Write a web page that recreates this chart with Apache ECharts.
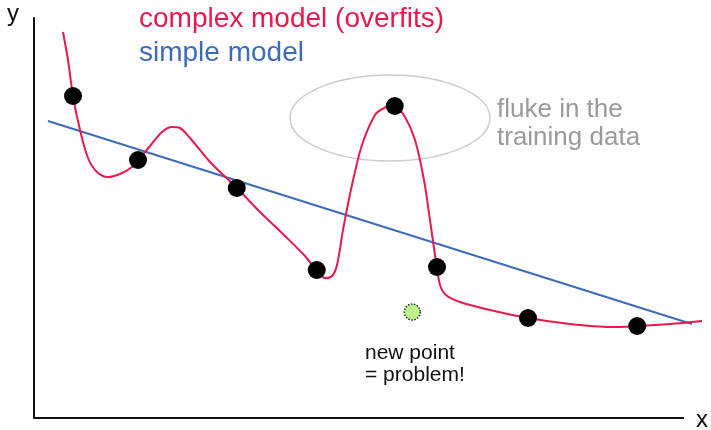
<!DOCTYPE html>
<html>
<head>
<meta charset="utf-8">
<script src="https://cdn.jsdelivr.net/npm/echarts@6/dist/echarts.min.js"></script>
<style>
  html, body { margin: 0; padding: 0; background: #fff; }
  #chart { width: 711px; height: 430px; }
</style>
</head>
<body>
<div id="chart"></div>
<script>
// training points (x, y) in axis units, x axis drawn 0..100
var trainX = [6.0, 16.0, 31.2, 43.5, 55.5, 62.0, 76.0, 92.8];
var trainY = [80.5, 64.5, 57.5, 37.0, 78.0, 37.75, 25.0, 23.0];

// the new point
var newPoint = [58.2, 26.5];

// simple model: straight line, two ends
var simpleX = [2.15, 101.2];
var simpleY = [74.25, 23.5];

// complex model: wiggly curve
var complexX = [4.46, 5.23, 6.0, 7.08, 8.31, 9.69, 11.38, 13.23, 15.08, 16.31,
    17.85, 19.69, 21.23, 22.46, 24.0, 27.08, 31.23, 34.77, 38.62, 41.69,
    43.69, 44.77, 45.85, 46.62, 47.54, 48.92, 50.46, 52.46, 53.85, 55.38,
    57.08, 58.62, 60.0, 60.92, 61.69, 62.0, 62.46, 63.38, 65.54, 70.15,
    76.0, 82.46, 88.62, 92.77, 97.85, 102.77];
var complexY = [96.5, 89.5, 80.5, 72.0, 65.0, 61.5, 60.25, 61.0, 62.75, 65.0,
    68.0, 71.5, 72.75, 72.5, 70.0, 64.0, 57.5, 51.5, 45.5, 40.5,
    36.5, 35.0, 35.5, 38.25, 47.0, 58.25, 68.25, 75.75, 77.5, 78.25,
    75.25, 69.5, 59.5, 49.5, 40.75, 37.75, 33.25, 30.75, 29.0, 27.0,
    25.0, 23.5, 22.75, 23.0, 23.5, 24.25];

// ellipse round the fluke: centre x, centre y, radius x, radius y
var flukeRing = [54.77, 75.0, 15.38, 10.75];

function zip(xs, ys) {
    var out = [];
    for (var i = 0; i < xs.length; i++) out.push([xs[i], ys[i]]);
    return out;
}

var RED = '#e8194c';
var BLUE = '#3e6bb8';
var FONT = 'Liberation Sans, Arial, sans-serif';

var myChart = echarts.init(document.getElementById('chart'));
var option = {
    animation: false,
    // x scale runs a bit past the drawn axis so the curves can overhang it
    grid: { left: 34, right: 7.5, top: 18, bottom: 12 },
    xAxis: {
        type: 'value', min: 0, max: 103,
        axisLine: { show: false },
        axisTick: { show: false }, axisLabel: { show: false }, splitLine: { show: false }
    },
    yAxis: {
        type: 'value', min: 0, max: 100,
        axisLine: { show: true, lineStyle: { color: '#111', width: 2 } },
        axisTick: { show: false }, axisLabel: { show: false }, splitLine: { show: false }
    },
    series: [
        {
            type: 'custom',
            silent: true,
            data: [flukeRing],
            renderItem: function (params, api) {
                var c = api.coord([api.value(0), api.value(1)]);
                var s = api.size([api.value(2), api.value(3)]);
                return {
                    type: 'ellipse',
                    shape: { cx: c[0], cy: c[1], rx: s[0], ry: s[1] },
                    style: { fill: 'none', stroke: '#cccccc', lineWidth: 1.5 }
                };
            },
            z: 1
        },
        {
            name: 'simple model',
            type: 'line',
            data: zip(simpleX, simpleY),
            showSymbol: false,
            lineStyle: { color: BLUE, width: 2 },
            z: 2
        },
        {
            name: 'complex model',
            type: 'line',
            data: zip(complexX, complexY),
            smooth: 0.3,
            showSymbol: false,
            lineStyle: { color: RED, width: 2 },
            z: 3
        },
        {
            type: 'scatter',
            data: zip(trainX, trainY),
            symbolSize: 18,
            itemStyle: { color: '#000', opacity: 1 },
            z: 4
        },
        {
            type: 'scatter',
            data: [newPoint],
            symbolSize: 16,
            itemStyle: { color: '#bdf38f', borderColor: '#222', borderWidth: 1.5, borderType: 'dotted', opacity: 1 },
            z: 4
        }
    ],
    graphic: [
        // x axis line, ends short of the plot edge like the original
        { type: 'line', shape: { x1: 34, y1: 418, x2: 684, y2: 418 }, style: { stroke: '#111', lineWidth: 2 }, z: 5 },
        { type: 'text', x: 7, y: 14, style: { text: 'y', font: '24px ' + FONT, fill: '#111', verticalAlign: 'middle' } },
        { type: 'text', x: 696, y: 420, style: { text: 'x', font: '24px ' + FONT, fill: '#111', verticalAlign: 'middle' } },
        { type: 'text', x: 139, y: 19, style: { text: 'complex model (overfits)', font: '28px ' + FONT, fill: RED, verticalAlign: 'middle' } },
        { type: 'text', x: 139, y: 53, style: { text: 'simple model', font: '28px ' + FONT, fill: BLUE, verticalAlign: 'middle' } },
        { type: 'text', x: 497, y: 110, style: { text: 'fluke in the', font: '26px ' + FONT, fill: '#9a9a9a', verticalAlign: 'middle' } },
        { type: 'text', x: 497, y: 138, style: { text: 'training data', font: '26px ' + FONT, fill: '#9a9a9a', verticalAlign: 'middle' } },
        { type: 'text', x: 365, y: 353, style: { text: 'new point', font: '21px ' + FONT, fill: '#111', verticalAlign: 'middle' } },
        { type: 'text', x: 365, y: 375, style: { text: '= problem!', font: '21px ' + FONT, fill: '#111', verticalAlign: 'middle' } }
    ]
};
myChart.setOption(option);
</script>
</body>
</html>
